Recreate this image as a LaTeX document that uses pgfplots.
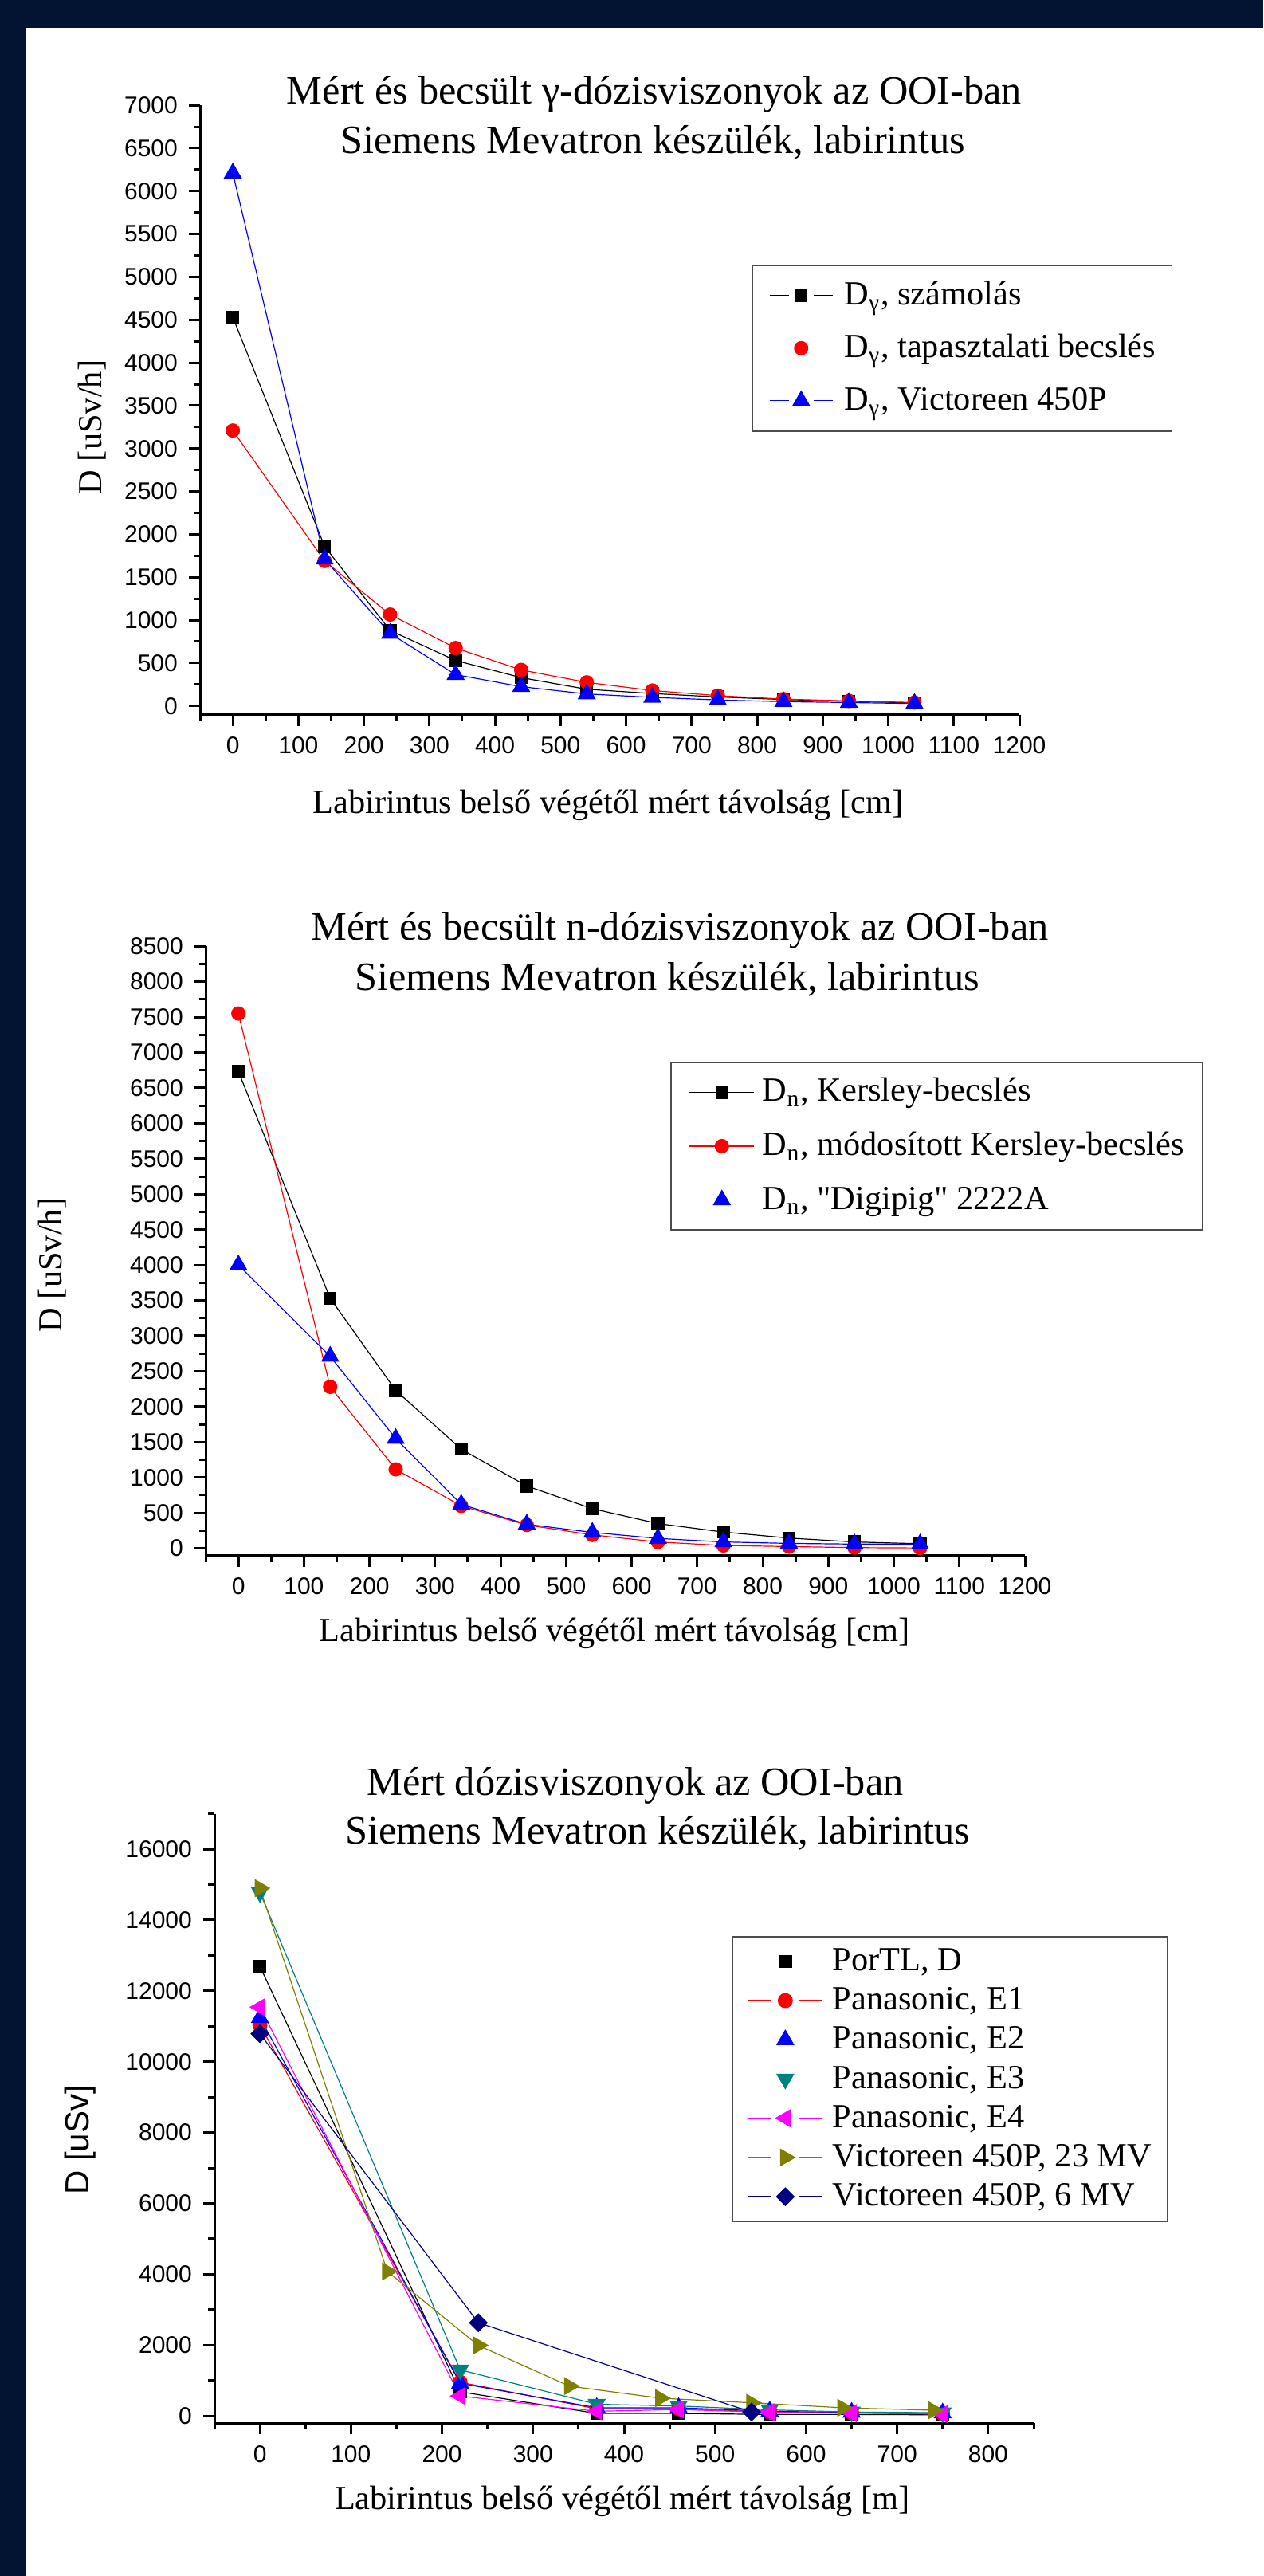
\documentclass[border=0pt]{standalone}
\usepackage{fontspec}
\setmainfont{Liberation Serif}
\setsansfont{Liberation Sans}
\usepackage{pgfplots}
\pgfplotsset{compat=1.18}
\definecolor{bgnavy}{RGB}{2,20,50}
\definecolor{oteal}{RGB}{0,128,128}
\definecolor{oolive}{RGB}{128,128,0}
\definecolor{onavy}{RGB}{0,0,128}
\definecolor{omag}{RGB}{255,0,255}
\newcommand\titfont{\fontsize{12.6}{15}\selectfont}
\newcommand\labfont{\fontsize{10.6}{12.5}\selectfont}
\newcommand\legfont{\fontsize{10.6}{12.5}\selectfont}
\newcommand\tickfont{\sffamily\fontsize{7.5}{8.5}\selectfont}
\pgfplotsset{
  origin/.style={
    scale only axis, width=257pt, height=191.1pt,
    anchor=south west,
    axis lines=left, axis line style={-, line width=0.75pt},
    tick align=outside, major tick length=3.5pt, minor tick length=2pt,
    tick style={black, line width=0.75pt},
    ticklabel style={font=\tickfont},
    scaled ticks=false,
    /pgf/number format/assume math mode=true,
    /pgf/number format/1000 sep={},
    clip=false, enlargelimits=false,
    xlabel style={font=\labfont, anchor=center},
    ylabel style={font=\labfont, anchor=center},
    legend cell align=left,
  },
  dl/.style={line width=0.3pt},
  mk/.style={mark options={solid, line width=0.3pt, draw=#1, fill=#1}},
}
\begin{document}
\begin{tikzpicture}
\useasboundingbox (0,0) rectangle (396.25pt,-808pt);
\fill[bgnavy] (0,0) rectangle (396.25pt,-808pt);
\fill[white] (8.25pt,-8.75pt) rectangle (396.25pt,-808pt);

% ---------------- Chart 1 ----------------
\begin{axis}[origin, at={(62.75pt,-224.125pt)},
  xmin=-50, xmax=1200, ymin=-100, ymax=7000,
  xtick={0,100,...,1200}, minor xtick={-50,50,...,1150},
  ytick={0,500,...,7000}, minor ytick={250,750,...,6750},
  xlabel={Labirintus belső végétől mért távolság [cm]},
  ylabel={D [uSv/h]},
  xlabel style={at={(axis description cs:0.498,-0.1485)}},
  ylabel style={at={(axis description cs:-0.1313,0.4716)}},
  legend style={at={(axis description cs:0.674,0.7384)}, anchor=north west,
    draw=black!70, line width=0.4pt, font=\legfont,
    inner xsep=5.1pt, inner ysep=4.1pt, row sep=5.7pt,
    nodes={inner sep=0pt, text height=8.3pt, text depth=2.5pt},
    /tikz/every odd column/.style={column sep=3.5pt}},
  legend image code/.code={
    \draw[#1] (0pt,0pt) -- (6pt,0pt);
    \draw[#1] (13.8pt,0pt) -- (19.8pt,0pt);
    \draw[#1] plot coordinates {(9.9pt,0pt)};
  },
]
\addplot[dl, black, mark=square*, mark size=1.9pt, mk=black] coordinates {
(0,4530)(140,1860)(240,880)(340,530)(440,330)(540,195)(640,145)(740,105)(840,75)(940,55)(1040,35)};
\addlegendentry{D\textsubscript{γ}, számolás}
\addplot[dl, red, mark=*, mark size=2.1pt, mk=red] coordinates {
(0,3210)(140,1690)(240,1065)(340,675)(440,420)(540,275)(640,180)(740,120)(840,80)(940,58)(1040,40)};
\addlegendentry{D\textsubscript{γ}, tapasztalati becslés}
\addplot[dl, blue, mark=triangle*, mark size=3pt, mk=blue] coordinates {
(0,6210)(140,1710)(240,845)(340,365)(440,225)(540,140)(640,100)(740,70)(840,50)(940,40)(1040,28)};
\addlegendentry{D\textsubscript{γ}, Victoreen 450P}
\node[font=\titfont] at (axis description cs:0.5545,1.0183) {Mért és becsült γ-dózisviszonyok az OOI-ban};
\node[font=\titfont] at (axis description cs:0.5525,0.9385) {Siemens Mevatron készülék, labirintus};
\end{axis}

% ---------------- Chart 2 ----------------
\begin{axis}[origin, at={(64.5pt,-487.875pt)},
  xmin=-50, xmax=1200, ymin=-100, ymax=8500,
  xtick={0,100,...,1200}, minor xtick={-50,50,...,1150},
  ytick={0,500,...,8500}, minor ytick={250,750,...,8250},
  xlabel={Labirintus belső végétől mért távolság [cm]},
  ylabel={D [uSv/h]},
  xlabel style={at={(axis description cs:0.499,-0.1275)}},
  ylabel style={at={(axis description cs:-0.1868,0.4768)}},
  legend style={at={(axis description cs:0.5671,0.8103)}, anchor=north west,
    draw=black!70, line width=0.4pt, font=\legfont,
    inner xsep=5.75pt, inner ysep=3.95pt, row sep=6.1pt,
    nodes={inner sep=0pt, text height=8.3pt, text depth=2.5pt},
    /tikz/every odd column/.style={column sep=2.5pt}},
  legend image code/.code={
    \draw[#1] (0pt,0pt) -- (20.25pt,0pt);
    \draw[#1] plot coordinates {(10.1pt,0pt)};
  },
]
\addplot[dl, black, mark=square*, mark size=1.9pt, mk=black] coordinates {
(0,6730)(140,3530)(240,2230)(340,1400)(440,880)(540,560)(640,350)(740,230)(840,145)(940,90)(1040,65)};
\addlegendentry{D\textsubscript{n}, Kersley-becslés}
\addplot[dl, red, mark=*, mark size=2.1pt, mk=red] coordinates {
(0,7550)(140,2280)(240,1115)(340,600)(440,330)(540,190)(640,90)(740,40)(840,25)(940,10)(1040,5)};
\addlegendentry{D\textsubscript{n}, módosított Kersley-becslés}
\addplot[dl, blue, mark=triangle*, mark size=3pt, mk=blue] coordinates {
(0,4000)(140,2710)(240,1550)(340,620)(440,340)(540,225)(640,140)(740,90)(840,70)(940,60)(1040,60)};
\addlegendentry{D\textsubscript{n}, \textquotedbl Digipig\textquotedbl{} 2222A}
\node[font=\titfont] at (axis description cs:0.5788,1.0262) {Mért és becsült n-dózisviszonyok az OOI-ban};
\node[font=\titfont] at (axis description cs:0.5632,0.9451) {Siemens Mevatron készülék, labirintus};
\end{axis}

% ---------------- Chart 3 ----------------
\begin{axis}[origin, at={(67.25pt,-760pt)},
  xmin=-50, xmax=850, ymin=-200, ymax=17000,
  xtick={0,100,...,800}, minor xtick={-50,50,...,850},
  ytick={0,2000,...,16000}, minor ytick={1000,3000,...,17000},
  xlabel={Labirintus belső végétől mért távolság [m]},
  ylabel={D [uSv]},
  xlabel style={at={(axis description cs:0.498,-0.1282)}},
  ylabel style={at={(axis description cs:-0.1634,0.4644)}, font=\sffamily\fontsize{10.5}{12}\selectfont},
  legend style={at={(axis description cs:0.6313,0.7990)}, anchor=north west,
    draw=black!70, line width=0.4pt, font=\legfont,
    inner xsep=4.85pt, inner ysep=2.3pt, row sep=1.5pt,
    nodes={inner sep=0pt, text height=8.3pt, text depth=2.5pt},
    /tikz/every odd column/.style={column sep=3pt}},
  legend image code/.code={
    \draw[#1] (0pt,0pt) -- (7.15pt,0pt);
    \draw[#1] (15.9pt,0pt) -- (23.4pt,0pt);
    \draw[#1] plot coordinates {(11.65pt,0pt)};
  },
]
\addplot[dl, black, mark=square*, mark size=1.9pt, mk=black] coordinates {
(0,12690)(220,680)(370,70)(460,70)(560,40)(650,40)(750,30)};
\addlegendentry{PorTL, D}
\addplot[dl, red, mark=*, mark size=2.2pt, mk=red] coordinates {
(0,11030)(220,950)(370,200)(460,200)(560,110)(650,90)(750,60)};
\addlegendentry{Panasonic, E1}
\addplot[dl, blue, mark=triangle*, mark size=3pt, mk=blue] coordinates {
(0,11240)(220,920)(370,230)(460,230)(560,130)(650,100)(750,80)};
\addlegendentry{Panasonic, E2}
\addplot[dl, oteal, mark=triangle*, mark size=3pt, mk=oteal, mark options={rotate=180}] coordinates {
(0,14780)(220,1300)(370,330)(460,280)(560,170)(650,110)(750,90)};
\addlegendentry{Panasonic, E3}
\addplot[dl, omag, mark=triangle*, mark size=3pt, mk=omag, mark options={rotate=90}] coordinates {
(0,11540)(220,560)(370,130)(460,180)(560,100)(650,80)(750,50)};
\addlegendentry{Panasonic, E4}
\addplot[dl, oolive, mark=triangle*, mark size=3pt, mk=oolive, mark options={rotate=-90}] coordinates {
(0,14900)(140,4080)(240,1990)(340,840)(440,500)(540,370)(640,230)(740,160)};
\addlegendentry{Victoreen 450P, 23 MV}
\addplot[dl, onavy, mark=square*, mark size=1.95pt, mk=onavy, mark options={rotate=45}] coordinates {
(0,10790)(240,2630)(540,110)};
\addlegendentry{Victoreen 450P, 6 MV}
\node[font=\titfont] at (axis description cs:0.5136,1.0464) {Mért dózisviszonyok az OOI-ban};
\node[font=\titfont] at (axis description cs:0.5409,0.968) {Siemens Mevatron készülék, labirintus};
\end{axis}
\end{tikzpicture}
\end{document}
